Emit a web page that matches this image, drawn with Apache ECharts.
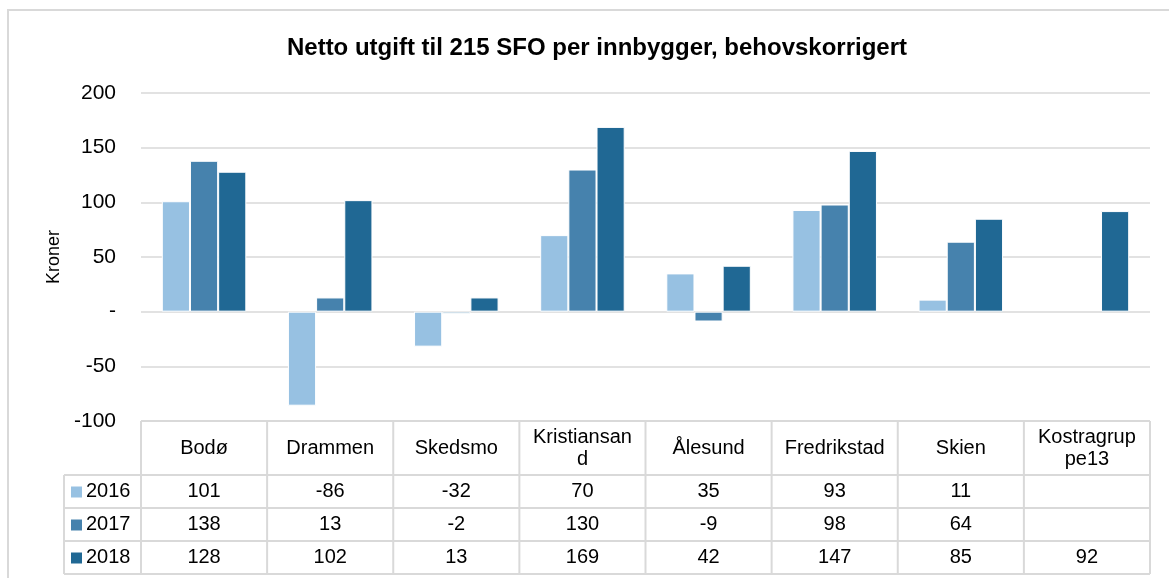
<!DOCTYPE html>
<html>
<head>
<meta charset="utf-8">
<script src="https://cdn.jsdelivr.net/npm/echarts@6/dist/echarts.min.js"></script>
<style>
html, body { margin: 0; padding: 0; background: #fff; }
#chart { width: 1169px; height: 578px; }
</style>
</head>
<body>
<div id="chart"></div>
<script>
// data
var categories = ['Bodø', 'Drammen', 'Skedsmo', 'Kristiansand', 'Ålesund', 'Fredrikstad', 'Skien', 'Kostragruppe13'];
var headerLabels = ['Bodø', 'Drammen', 'Skedsmo', 'Kristiansan\nd', 'Ålesund', 'Fredrikstad', 'Skien', 'Kostragrup\npe13'];
var years = ['2016', '2017', '2018'];
var v2016 = [101, -86, -32, 70, 35, 93, 11, null];
var v2017 = [138, 13, -2, 130, -9, 98, 64, null];
var v2018 = [128, 102, 13, 169, 42, 147, 85, 92];
var colors = ['#97c1e2', '#4682ad', '#206894'];

var FONT = 'Liberation Sans, Arial, sans-serif';
var gridL = 141, gridR = 1150, gridT = 93, gridB = 421;

var chart = echarts.init(document.getElementById('chart'));

function bar(name, data, i) {
  return {
    name: name,
    type: 'bar',
    data: data,
    barGap: 0,
    barCategoryGap: '33%',
    itemStyle: { color: colors[i], borderColor: '#fff', borderWidth: 1 }
  };
}

var options = {
  animation: false,
  title: {
    text: 'Netto utgift til 215 SFO per innbygger, behovskorrigert',
    left: 592,
    textAlign: 'center',
    top: 31,
    textStyle: { fontFamily: FONT, fontSize: 24, fontWeight: 'bold', color: '#000' }
  },
  grid: { left: gridL, right: 1169 - gridR, top: gridT, bottom: 578 - gridB },
  xAxis: {
    type: 'category',
    data: categories,
    axisLine: { show: false },
    axisTick: { show: false },
    axisLabel: { show: false }
  },
  yAxis: {
    type: 'value',
    min: -100,
    max: 200,
    interval: 50,
    name: 'Kroner',
    nameLocation: 'middle',
    nameGap: 74,
    nameTextStyle: { fontFamily: FONT, fontSize: 18, color: '#000' },
    axisLine: { show: false },
    axisTick: { show: false },
    axisLabel: {
      fontFamily: FONT, fontSize: 21, color: '#000', margin: 25,
      formatter: function (v) { return v === 0 ? '-' : v; }
    },
    splitLine: { lineStyle: { color: '#d9d9d9', width: 1.5 } }
  },
  series: [bar(years[0], v2016, 0), bar(years[1], v2017, 1), bar(years[2], v2018, 2)]
};
chart.setOption(options);

// data table under the plot
function buildTable() {
  var g = [];
  var line = '#d9d9d9';
  var colW = (gridR - gridL) / categories.length;
  var headTop = gridB, headBot = 475, rowH = 33, leftX = 64;
  var rows = [v2016, v2017, v2018];
  var tableBot = headBot + rowH * rows.length;

  function hline(x1, x2, y) {
    g.push({ type: 'line', shape: { x1: x1, y1: y, x2: x2, y2: y }, style: { stroke: line, lineWidth: 2 } });
  }
  function vline(x, y1, y2) {
    g.push({ type: 'line', shape: { x1: x, y1: y1, x2: x, y2: y2 }, style: { stroke: line, lineWidth: 2 } });
  }

  hline(gridL, gridR, headTop);
  for (var r = 0; r <= rows.length; r++) hline(leftX, gridR, headBot + r * rowH);
  vline(leftX, headBot, tableBot);
  for (var c = 0; c <= categories.length; c++) vline(gridL + c * colW, headTop, tableBot);

  for (var c2 = 0; c2 < categories.length; c2++) {
    var cx = chart.convertToPixel({ xAxisIndex: 0 }, categories[c2]);
    g.push({
      type: 'text', x: cx, y: (headTop + headBot) / 2,
      style: { text: headerLabels[c2], fontFamily: FONT, fontSize: 20, fill: '#000', align: 'center', verticalAlign: 'middle', lineHeight: 22 }
    });
    for (var r2 = 0; r2 < rows.length; r2++) {
      var v = rows[r2][c2];
      g.push({
        type: 'text', x: cx, y: headBot + r2 * rowH + rowH / 2,
        style: { text: v == null ? '' : String(v), fontFamily: FONT, fontSize: 20, fill: '#000', align: 'center', verticalAlign: 'middle' }
      });
    }
  }
  for (var r3 = 0; r3 < rows.length; r3++) {
    var yc = headBot + r3 * rowH + rowH / 2;
    g.push({ type: 'rect', shape: { x: 71, y: yc - 5, width: 11, height: 11 }, style: { fill: colors[r3] } });
    g.push({
      type: 'text', x: 86, y: yc,
      style: { text: years[r3], fontFamily: FONT, fontSize: 20, fill: '#000', align: 'left', verticalAlign: 'middle' }
    });
  }
  // chart frame
  g.push({ type: 'rect', shape: { x: 8, y: 10, width: 1200, height: 600 }, style: { fill: 'none', stroke: line, lineWidth: 2 }, z: -1 });
  return g;
}

chart.setOption({ graphic: buildTable() });
</script>
</body>
</html>
